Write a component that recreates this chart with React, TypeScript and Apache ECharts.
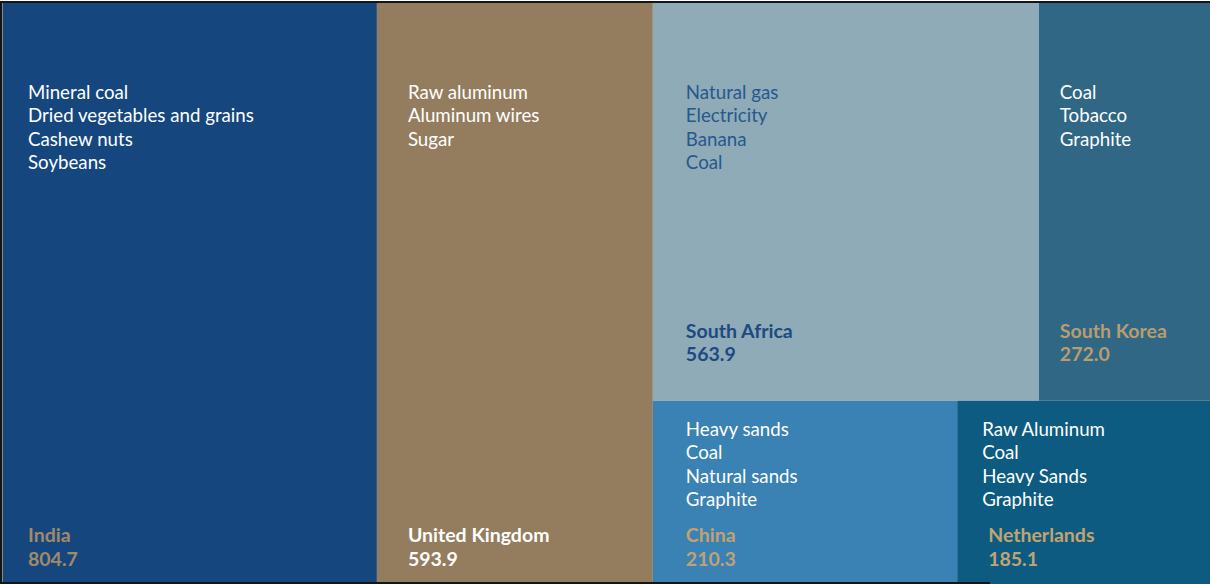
import React, { useEffect, useRef } from "react";
import * as echarts from "echarts";

const countries = ["India", "United Kingdom", "South Africa", "South Korea", "China", "Netherlands"];
const values = [804.7, 593.9, 563.9, 272.0, 210.3, 185.1];
const products = [
  ["Mineral coal", "Dried vegetables and grains", "Cashew nuts", "Soybeans"],
  ["Raw aluminum", "Aluminum wires", "Sugar"],
  ["Natural gas", "Electricity", "Banana", "Coal"],
  ["Coal", "Tobacco", "Graphite"],
  ["Heavy sands", "Coal", "Natural sands", "Graphite"],
  ["Raw Aluminum", "Coal", "Heavy Sands", "Graphite"],
];

// styles per tile (colours and text insets)
const tileStyles = [
  { fill: "#15477E", item: "#FFFFFF", label: "#A08A68", pad: 25, labelPad: 25 },
  { fill: "#947D5E", item: "#FFFFFF", label: "#FFFFFF", pad: 31, labelPad: 31 },
  { fill: "#8EABB7", item: "#28578F", label: "#1D4A80", pad: 33, labelPad: 33 },
  { fill: "#2F6785", item: "#FFFFFF", label: "#B99C70", pad: 21, labelPad: 21 },
  { fill: "#3A81B4", item: "#FFFFFF", label: "#C2A272", pad: 33, labelPad: 33 },
  { fill: "#0D5B80", item: "#FFFFFF", label: "#C2A472", pad: 25, labelPad: 31 },
];

// slice-and-dice layout in value units: x in value sums, y in [0,1]
function layout() {
  const v = values;
  const total = v.reduce((a, b) => a + b, 0);
  const rest = v[2] + v[3] + v[4] + v[5];
  const xr = v[0] + v[1];
  const t = (v[2] + v[3]) / rest;
  const xSA = xr + (rest * v[2]) / (v[2] + v[3]);
  const xCN = xr + (rest * v[4]) / (v[4] + v[5]);
  return {
    total,
    rects: [
      [0, v[0], 0, 1, 0],
      [v[0], xr, 0, 1, 1],
      [xr, xSA, 0, t, 2],
      [xSA, total, 0, t, 3],
      [xr, xCN, t, 1, 4],
      [xCN, total, t, 1, 5],
    ],
  };
}

export default function App() {
  const ref = useRef<HTMLDivElement>(null);
  useEffect(() => {
    if (!ref.current) return;
    const chart = echarts.init(ref.current, undefined, { renderer: "svg" });
    const { total, rects } = layout();
    const FONT = "Lato";
    const LH = 23.4;
    chart.setOption({
      animation: false,
      grid: { left: 3, top: 3, right: 0, bottom: 0, outerBoundsMode: "none" },
      xAxis: { type: "value", min: 0, max: total, show: false },
      yAxis: { type: "value", min: 0, max: 1, inverse: true, show: false },
      series: [
        {
          type: "custom",
          data: rects,
          renderItem: (params: any, api: any) => {
            const i = api.value(4);
            const p0 = api.coord([api.value(0), api.value(2)]);
            const p1 = api.coord([api.value(1), api.value(3)]);
            const x = p0[0];
            const y = p0[1];
            const w = p1[0] - p0[0];
            const h = p1[1] - p0[1];
            const st = tileStyles[i];
            const isTop = api.value(2) === 0;
            const isBottom = api.value(3) === 1;
            const children: any[] = [
              { type: "rect", shape: { x, y, width: w, height: h }, style: { fill: st.fill } },
            ];
            const itemTop = y + (isTop ? 89 : 28);
            products[i].forEach((p, k) => {
              children.push({
                type: "text",
                style: {
                  text: p,
                  x: x + st.pad,
                  y: itemTop + k * LH,
                  fill: st.item,
                  fontSize: 18.7,
                  fontFamily: FONT,
                  verticalAlign: "middle",
                  align: "left",
                },
              });
            });
            const valY = y + h - (isBottom ? 31 : 47);
            children.push({
              type: "text",
              style: {
                text: countries[i],
                x: x + st.labelPad,
                y: valY - LH,
                fill: st.label,
                fontSize: 19.5,
                fontWeight: "bold",
                fontFamily: FONT,
                verticalAlign: "middle",
                align: "left",
              },
            });
            children.push({
              type: "text",
              style: {
                text: values[i].toFixed(1),
                x: x + st.labelPad,
                y: valY,
                fill: st.label,
                fontSize: 19.5,
                fontWeight: "bold",
                fontFamily: FONT,
                verticalAlign: "middle",
                align: "left",
              },
            });
            return { type: "group", children };
          },
        },
      ],
      graphic: [
        { type: "rect", z: 100, shape: { x: 0, y: 1, width: 1225, height: 2 }, style: { fill: "#151515" } },
        { type: "rect", z: 100, shape: { x: 0, y: 1, width: 2.5, height: 583 }, style: { fill: "#151515" } },
        { type: "rect", z: 100, shape: { x: 0, y: 582, width: 990, height: 2 }, style: { fill: "#151515" } },
      ],
    });
    return () => chart.dispose();
  }, []);
  return (
    <div
      style={{
        position: "fixed",
        left: 0,
        top: 0,
        width: 1210,
        height: 584,
        overflow: "hidden",
        background: "#fff",
      }}
    >
      <div ref={ref} style={{ width: 1225, height: 589 }} />
    </div>
  );
}
